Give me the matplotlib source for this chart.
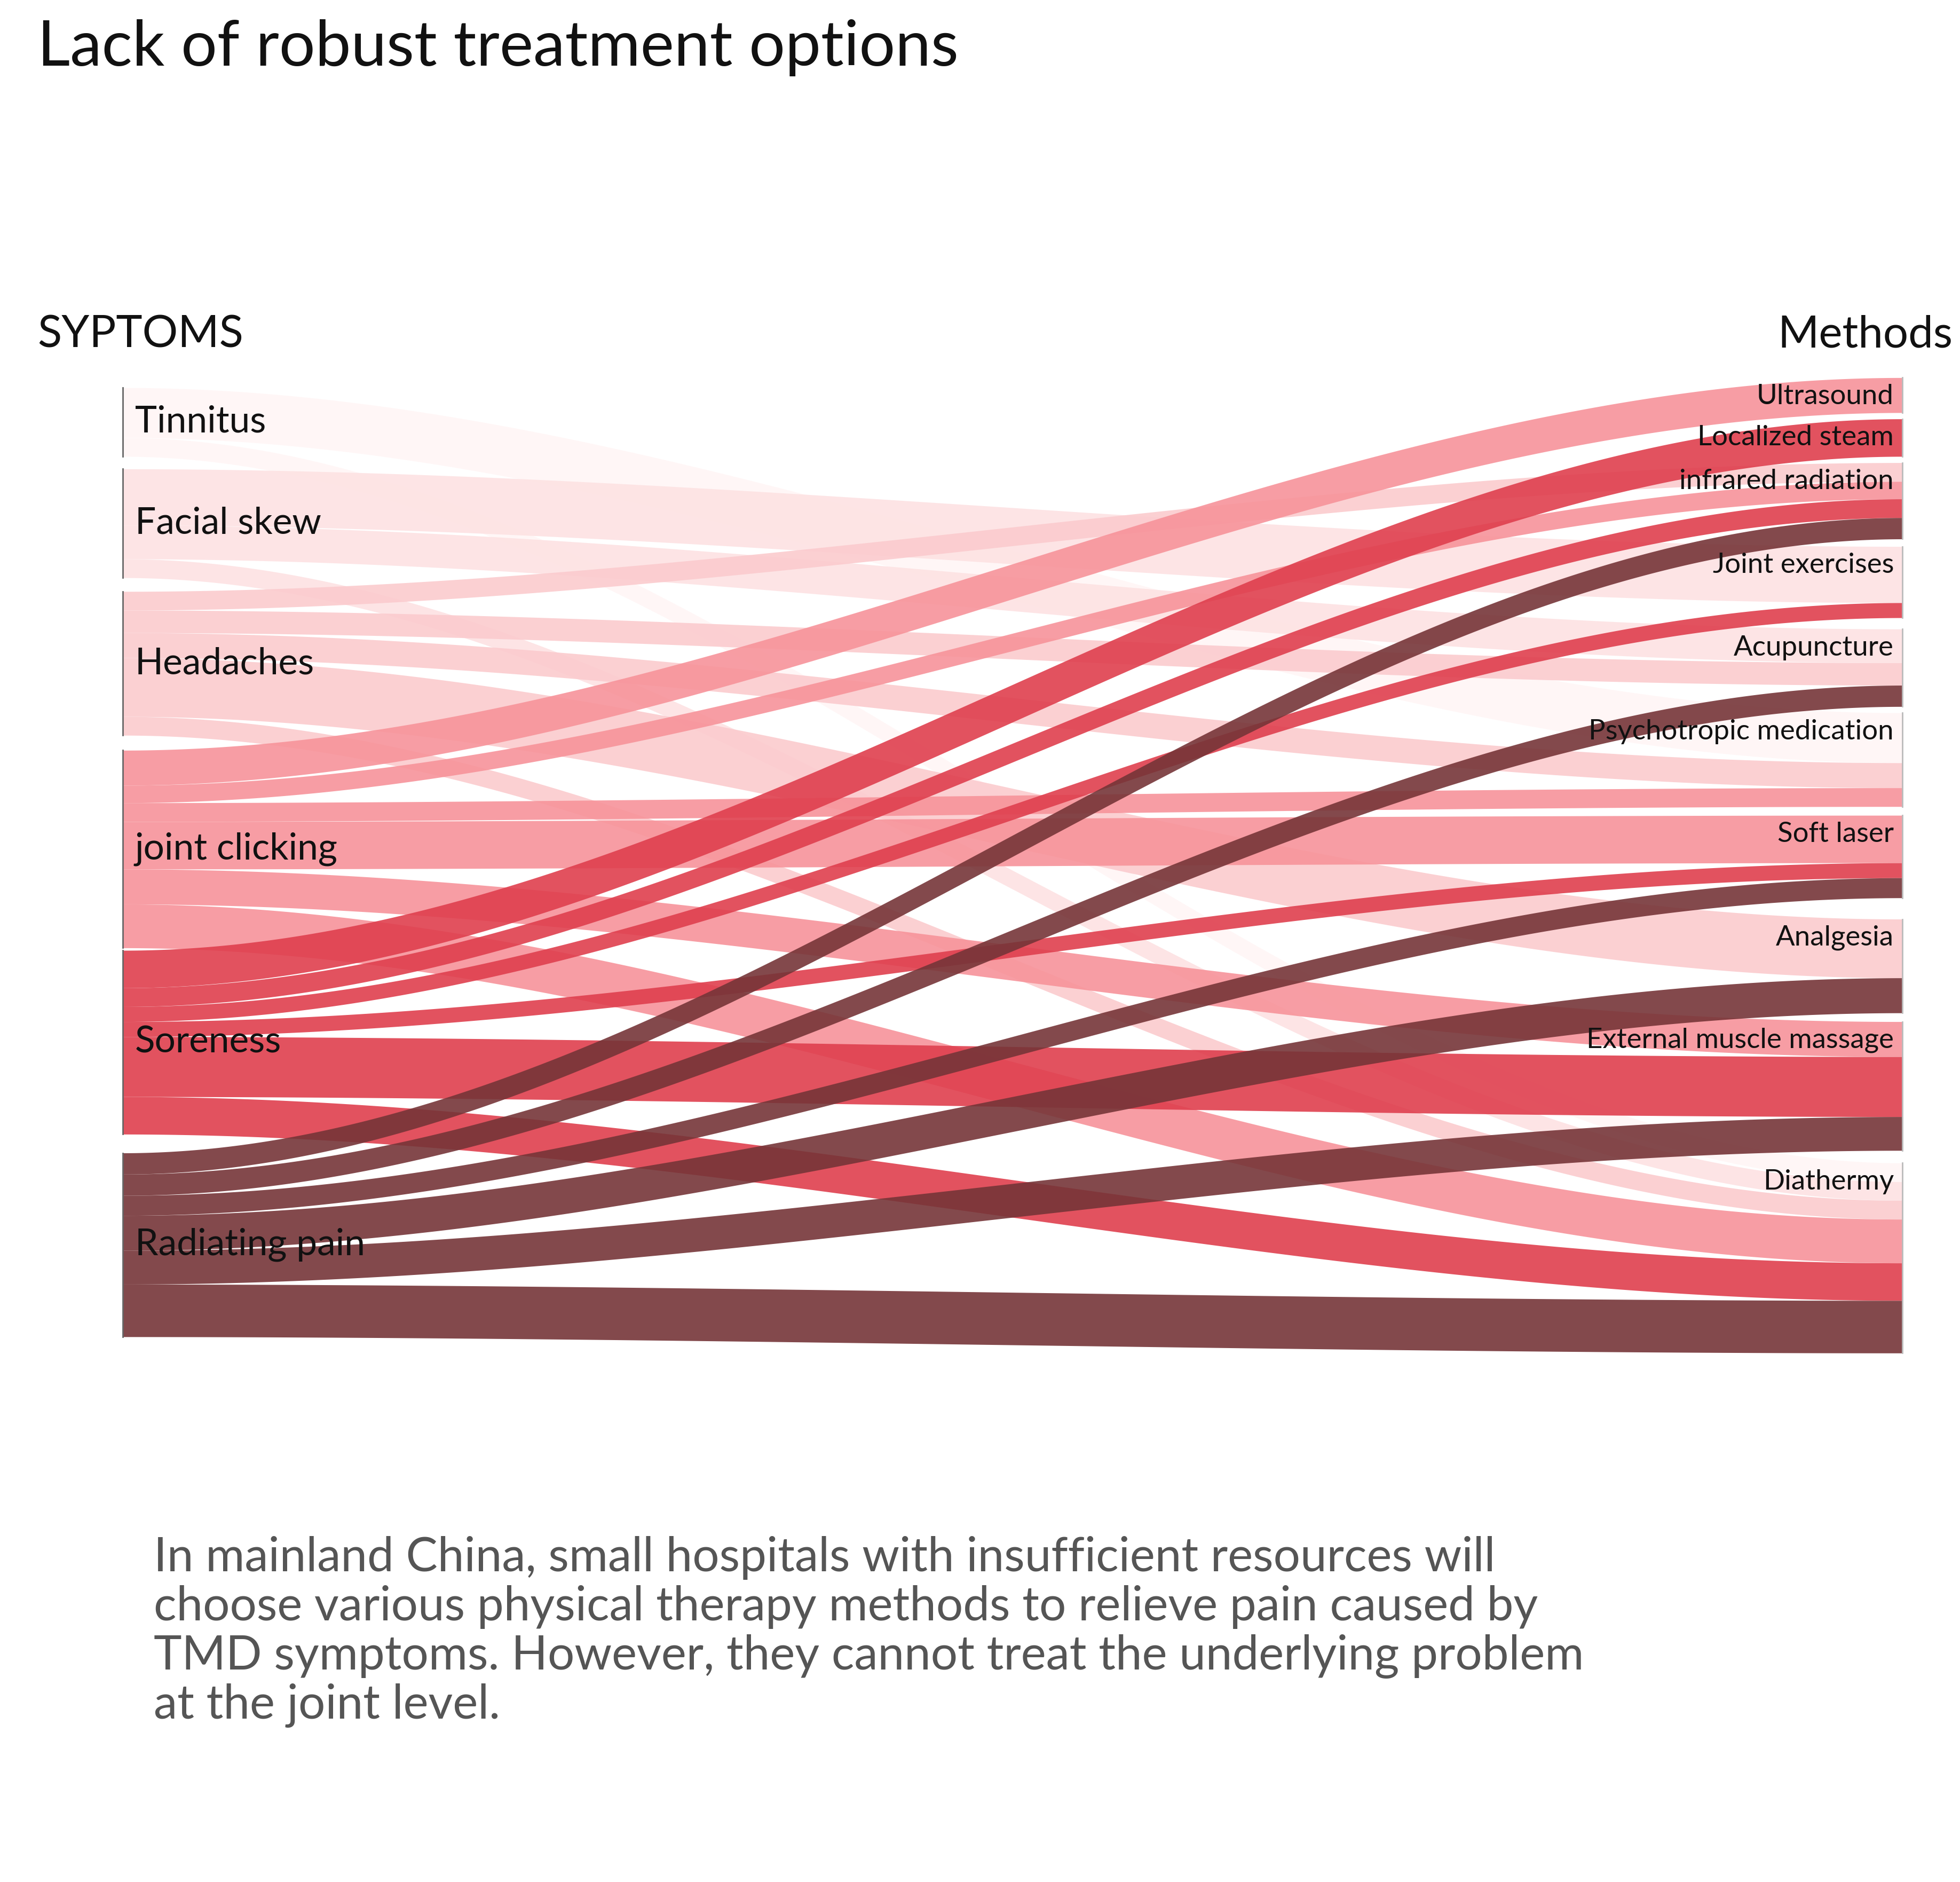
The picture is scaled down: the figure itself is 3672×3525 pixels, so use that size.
import numpy as np
import matplotlib
matplotlib.use("Agg")
import matplotlib.pyplot as plt

sources = ["Tinnitus", "Facial skew", "Headaches", "joint clicking", "Soreness", "Radiating pain"]
targets = ["Ultrasound", "Localized steam", "infrared radiation", "Joint exercises", "Acupuncture",
           "Psychotropic medication", "Soft laser", "Analgesia", "External muscle massage", "Diathermy"]
links = [
    ("Tinnitus", "Psychotropic medication", 40), ("Tinnitus", "Diathermy", 15),
    ("Facial skew", "Joint exercises", 45), ("Facial skew", "Acupuncture", 27), ("Facial skew", "Diathermy", 15),
    ("Headaches", "infrared radiation", 15), ("Headaches", "Acupuncture", 18), ("Headaches", "Psychotropic medication", 20),
    ("Headaches", "Analgesia", 47), ("Headaches", "Diathermy", 15),
    ("joint clicking", "Ultrasound", 28), ("joint clicking", "infrared radiation", 14),
    ("joint clicking", "Psychotropic medication", 15), ("joint clicking", "Soft laser", 38),
    ("joint clicking", "External muscle massage", 28), ("joint clicking", "Diathermy", 35),
    ("Soreness", "Localized steam", 30), ("Soreness", "infrared radiation", 15), ("Soreness", "Joint exercises", 12),
    ("Soreness", "Soft laser", 12), ("Soreness", "External muscle massage", 48), ("Soreness", "Diathermy", 30),
    ("Radiating pain", "infrared radiation", 17), ("Radiating pain", "Acupuncture", 17), ("Radiating pain", "Soft laser", 16),
    ("Radiating pain", "Analgesia", 28), ("Radiating pain", "External muscle massage", 27), ("Radiating pain", "Diathermy", 42),
]
colors = {"Tinnitus": "#fff6f6", "Facial skew": "#fde2e3", "Headaches": "#fbcbce",
          "joint clicking": "#f7939a", "Soreness": "#df3f4e", "Radiating pain": "#763538"}

src_top = [310, 375, 473, 600, 760, 922]
tgt_top = [302, 335, 370, 437, 503, 570, 652, 735, 817, 930]
XL, XR = 98, 1522

fig = plt.figure(figsize=(36.72, 35.25), dpi=100)
ax = fig.add_axes([0, 0, 1, 1])
ax.set_xlim(0, 1568); ax.set_ylim(1505, 0); ax.axis("off")

soff = {s: src_top[i] for i, s in enumerate(sources)}
toff = {t: tgt_top[i] for i, t in enumerate(targets)}
lpos = {}
for s in sources:
    for (a, b, v) in sorted([l for l in links if l[0] == s], key=lambda l: targets.index(l[1])):
        lpos[(a, b)] = [soff[s], None]; soff[s] += v
for t in targets:
    for (a, b, v) in sorted([l for l in links if l[1] == t], key=lambda l: sources.index(l[0])):
        lpos[(a, b)][1] = toff[t]; toff[t] += v

xs = np.linspace(XL, XR, 300)
tt = (xs - XL) / (XR - XL)
sm = tt * tt * (3 - 2 * tt)
for s in sources:
    for (a, b, v) in [l for l in links if l[0] == s]:
        y0, y1 = lpos[(a, b)]
        top = y0 + (y1 - y0) * sm
        ax.fill_between(xs, top, top + v, color=colors[a], alpha=0.9, lw=0)

for i, s in enumerate(sources):
    ax.plot([XL, XL], [src_top[i], soff[s]], color="#666666", lw=2)
    ax.text(108, (src_top[i] + soff[s]) / 2, s, fontsize=50, family="Lato", va="center", ha="left", color="#111")
for i, t in enumerate(targets):
    ax.plot([XR, XR], [tgt_top[i], toff[t]], color="#bbbbbb", lw=2)
    ax.text(1515, tgt_top[i] + 15, t, fontsize=38, family="Lato", va="center", ha="right", color="#111")

ax.text(30, 38, "Lack of robust treatment options", fontsize=86, family="Lato", va="center", color="#111")
ax.text(30, 268, "SYPTOMS", fontsize=60, family="Lato", va="center", color="#111")
ax.text(1562, 268, "Methods", fontsize=60, family="Lato", va="center", ha="right", color="#111")
ax.text(123, 1305, "In mainland China, small hospitals with insufficient resources will\n"
        "choose various physical therapy methods to relieve pain caused by\n"
        "TMD symptoms. However, they cannot treat the underlying problem\n"
        "at the joint level.", fontsize=64, family="Lato", va="center", color="#555555", linespacing=1.15)
fig.savefig("out.png", dpi=100)
